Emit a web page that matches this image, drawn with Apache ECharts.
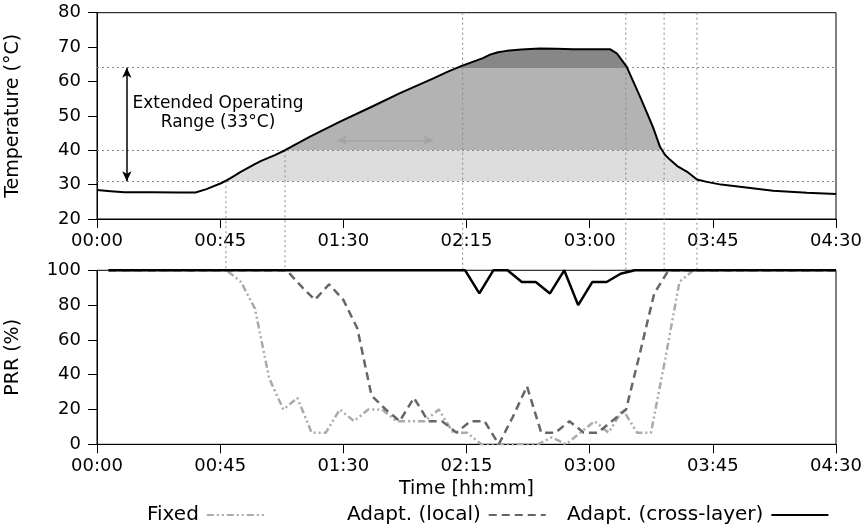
<!DOCTYPE html>
<html>
<head>
<meta charset="utf-8">
<script src="https://cdn.jsdelivr.net/npm/echarts@6/dist/echarts.min.js"></script>
<style>
  html, body { margin: 0; padding: 0; background: #fff; }
  #chart { width: 865px; height: 527px; }
</style>
</head>
<body>
<div id="chart"></div>
<script>
// Temperature trace (minutes since start, °C)
const tempTime  = [0, 5, 10, 20, 30, 36, 40, 45.3, 47.5, 50, 52.5, 55, 57.5, 60, 65, 68.7, 78, 88.8, 100, 110.7, 122.9, 128, 133.5, 138, 141, 143.6, 146.5, 149.7, 155, 161.8, 168, 173.9, 180, 187.4, 189.9, 193.5, 198.4, 203.1, 205.7, 207.5, 209.4, 212, 215.5, 219.2, 222.8, 228, 234.9, 247, 259.3, 270];
const tempValue = [28.4, 28.1, 27.8, 27.8, 27.7, 27.7, 28.7, 30.4, 31.3, 32.5, 33.7, 34.8, 35.9, 36.9, 38.6, 40.0, 44.0, 48.3, 52.5, 56.6, 60.9, 62.8, 64.6, 65.9, 66.8, 67.8, 68.5, 68.9, 69.3, 69.6, 69.5, 69.4, 69.4, 69.4, 68.2, 64.3, 55.6, 46.8, 41.0, 38.7, 37.2, 35.4, 33.8, 31.5, 30.8, 30.0, 29.4, 28.2, 27.6, 27.3];

// Temperature thresholds (°C) drawn as dotted guides
const bandLevels = [31, 40, 64];
// Times where the trace crosses a threshold, and where each guide starts (°C)
const guideTime = [47.1, 68.7, 133.6, 193.2, 207.2, 219.2];
const guideTop  = [31, 40, 80, 80, 80, 80];

// Packet reception ratio (%)
const fixedTime = [4.2, 47.4, 52.6, 57.7, 62.9, 68.1, 73.2, 78.4, 83.6, 88.7, 93.9, 99.1, 104.2, 109.4, 114.6, 119.7, 124.9, 130.1, 135.2, 140.4, 145.6, 150.7, 155.9, 161.1, 166.2, 171.4, 176.6, 181.8, 186.9, 192.1, 197.3, 202.4, 207.6, 212.8, 217.9, 270];
const fixedPRR  = [100, 100, 93.3, 78, 38, 20, 26.7, 6.7, 6.7, 20, 13.3, 20, 20, 13.3, 13.3, 13.3, 20, 6.7, 6.7, 0, 0, 0, 0, 0, 4, 0, 6.7, 13.3, 6.7, 20, 6.7, 6.7, 49, 93.3, 100, 100];

const localTime = [4.2, 69.3, 74.5, 79.6, 84.8, 90.0, 95.1, 100.3, 105.5, 110.6, 115.8, 121.0, 126.1, 131.3, 136.5, 141.6, 146.8, 152.0, 157.1, 162.3, 167.5, 172.6, 177.8, 183.0, 188.1, 193.3, 198.5, 203.6, 208.8, 270];
const localPRR  = [100, 100, 91, 83, 92, 83, 66.7, 28, 20, 13.3, 26.7, 13.3, 13.3, 6.7, 13.3, 13.3, 0, 16, 33.3, 6.7, 6.7, 13.3, 6.7, 6.7, 13.3, 20, 53.3, 86.7, 100, 100];

const crossTime = [4.2, 134.5, 139.7, 144.8, 150.0, 155.2, 160.3, 165.5, 170.7, 175.8, 181.0, 186.2, 191.3, 196.5, 270];
const crossPRR  = [100, 100, 86.7, 100, 100, 93.3, 93.3, 86.7, 100, 80, 93.3, 93.3, 98, 100, 100];

// Annotation arrows (time, °C)
const rangeArrow = { time: 10.9, from: 31, to: 64 };
const hintArrow  = { from: 87.7, to: 122.8, level: 42.9 };

const FONT = 'DejaVu Sans';
const pair = (xs, ys) => xs.map((x, i) => [x, ys[i]]);
const hhmm = v => String(Math.floor(v / 60)).padStart(2, '0') + ':' + String(Math.round(v % 60)).padStart(2, '0');

const chart = echarts.init(document.getElementById('chart'), null, { renderer: 'canvas' });

const gridBase = {
  left: 97, right: 29, show: true, borderColor: '#000', borderWidth: 1,
  backgroundColor: 'transparent', containLabel: false, outerBoundsMode: 'none'
};

function xAxisFor(gridIndex, withName) {
  return {
    type: 'value', gridIndex, min: 0, max: 270, interval: 45,
    axisLine: { show: true, onZero: false, lineStyle: { color: '#000', width: 1 } },
    axisTick: { show: true, inside: false, length: 9, lineStyle: { color: '#000' } },
    axisLabel: { show: true, formatter: hhmm, color: '#000', fontFamily: FONT, fontSize: 18, margin: 13 },
    splitLine: { show: false },
    name: withName ? 'Time [hh:mm]' : '',
    nameLocation: 'middle', nameGap: 35,
    nameTextStyle: { color: '#000', fontFamily: FONT, fontSize: 19 }
  };
}
function yAxisFor(gridIndex, min, max, interval, name) {
  return {
    type: 'value', gridIndex, min, max, interval,
    axisLine: { show: true, lineStyle: { color: '#000', width: 1 } },
    axisTick: { show: true, inside: false, length: 9, lineStyle: { color: '#000' } },
    axisLabel: { color: '#000', fontFamily: FONT, fontSize: 18, margin: 16 },
    splitLine: { show: false },
    name, nameLocation: 'middle', nameRotate: 90, nameGap: 74,
    nameTextStyle: { color: '#000', fontFamily: FONT, fontSize: 19 }
  };
}

const legendBase = {
  top: 505, align: 'right', itemWidth: 57, itemHeight: 14, itemGap: 0, padding: 0,
  itemStyle: { color: 'rgba(0,0,0,0)', borderColor: 'rgba(0,0,0,0)', borderWidth: 0 },
  textStyle: { color: '#000', fontFamily: FONT, fontSize: 20, padding: [0, 3, 0, 0] }
};

const option = {
  animation: false,
  backgroundColor: '#fff',
  grid: [
    Object.assign({ top: 12.7, height: 206.3 }, gridBase),
    Object.assign({ top: 270.3, height: 174 }, gridBase)
  ],
  xAxis: [xAxisFor(0, false), xAxisFor(1, true)],
  yAxis: [yAxisFor(0, 20, 80, 10, 'Temperature (°C)'), yAxisFor(1, 0, 100, 20, 'PRR (%)')],
  visualMap: {
    type: 'piecewise', show: false, dimension: 1, seriesIndex: 0,
    pieces: [
      { lt: bandLevels[0], color: 'rgba(255,255,255,0)' },
      { gte: bandLevels[0], lt: bandLevels[1], color: '#dddddd' },
      { gte: bandLevels[1], lt: bandLevels[2], color: '#b3b3b3' },
      { gte: bandLevels[2], color: '#878787' }
    ]
  },
  legend: [
    Object.assign({ left: 147, data: ['Fixed'] }, legendBase),
    Object.assign({ left: 347, data: ['Adapt. (local)'] }, legendBase),
    Object.assign({ left: 567, data: ['Adapt. (cross-layer)'] }, legendBase)
  ],
  series: [
    {
      // shaded operating bands below the trace
      type: 'line', xAxisIndex: 0, yAxisIndex: 0, data: pair(tempTime, tempValue),
      showSymbol: false, symbol: 'none', silent: true, z: 1,
      lineStyle: { width: 0, opacity: 0 },
      areaStyle: { opacity: 1, origin: 'start' },
      markLine: {
        silent: true, symbol: 'none', label: { show: false },
        lineStyle: { color: '#888', type: [2, 3], width: 1 },
        data: bandLevels.map(v => ({ yAxis: v }))
      }
    },
    {
      type: 'line', xAxisIndex: 0, yAxisIndex: 0, data: pair(tempTime, tempValue),
      showSymbol: false, symbol: 'none', z: 5,
      lineStyle: { color: '#000', width: 2, join: 'round' },
      markLine: {
        silent: true, label: { show: false }, symbol: ['arrow', 'arrow'], symbolSize: [7, 10],
        data: [
          [{ coord: [rangeArrow.time, rangeArrow.from], lineStyle: { color: '#000', width: 1.5, type: 'solid' }, itemStyle: { color: '#000' } },
           { coord: [rangeArrow.time, rangeArrow.to] }],
          [{ coord: [hintArrow.from, hintArrow.level], lineStyle: { color: '#999', width: 1.5, type: 'solid', opacity: 0.5 }, itemStyle: { color: '#999', opacity: 0.5 } },
           { coord: [hintArrow.to, hintArrow.level] }]
        ]
      }
    },
    {
      name: 'Fixed', type: 'line', xAxisIndex: 1, yAxisIndex: 1, data: pair(fixedTime, fixedPRR),
      showSymbol: false, symbol: 'none', z: 2, color: '#aaaaaa',
      lineStyle: { color: '#aaaaaa', width: 2.5, type: [7, 3, 2, 3, 2, 3] }
    },
    {
      name: 'Adapt. (local)', type: 'line', xAxisIndex: 1, yAxisIndex: 1, data: pair(localTime, localPRR),
      showSymbol: false, symbol: 'none', z: 3, color: '#666666',
      lineStyle: { color: '#666666', width: 2.5, type: [8, 5] }
    },
    {
      name: 'Adapt. (cross-layer)', type: 'line', xAxisIndex: 1, yAxisIndex: 1, data: pair(crossTime, crossPRR),
      showSymbol: false, symbol: 'none', z: 4, color: '#000',
      lineStyle: { color: '#000', width: 2.5 }
    }
  ],
  graphic: [
    {
      type: 'text', z: 10, silent: true,
      style: {
        text: 'Extended Operating\nRange (33°C)', x: 218, y: 113,
        textAlign: 'center', textVerticalAlign: 'middle',
        font: '17px "DejaVu Sans"', fill: '#000', lineHeight: 19
      }
    }
  ]
};

chart.setOption(option);

// Vertical guides from the threshold crossings down to the top of the PRR panel
const guides = guideTime.map((t, i) => {
  const p1 = chart.convertToPixel({ xAxisIndex: 0, yAxisIndex: 0 }, [t, guideTop[i]]);
  const p2 = chart.convertToPixel({ xAxisIndex: 1, yAxisIndex: 1 }, [t, 100]);
  return {
    type: 'line', z: 3, silent: true,
    shape: { x1: p1[0], y1: p1[1], x2: p2[0], y2: p2[1] },
    style: { stroke: '#888', lineWidth: 1, lineDash: [2, 3] }
  };
});
chart.setOption({ graphic: option.graphic.concat(guides) });
</script>
</body>
</html>
